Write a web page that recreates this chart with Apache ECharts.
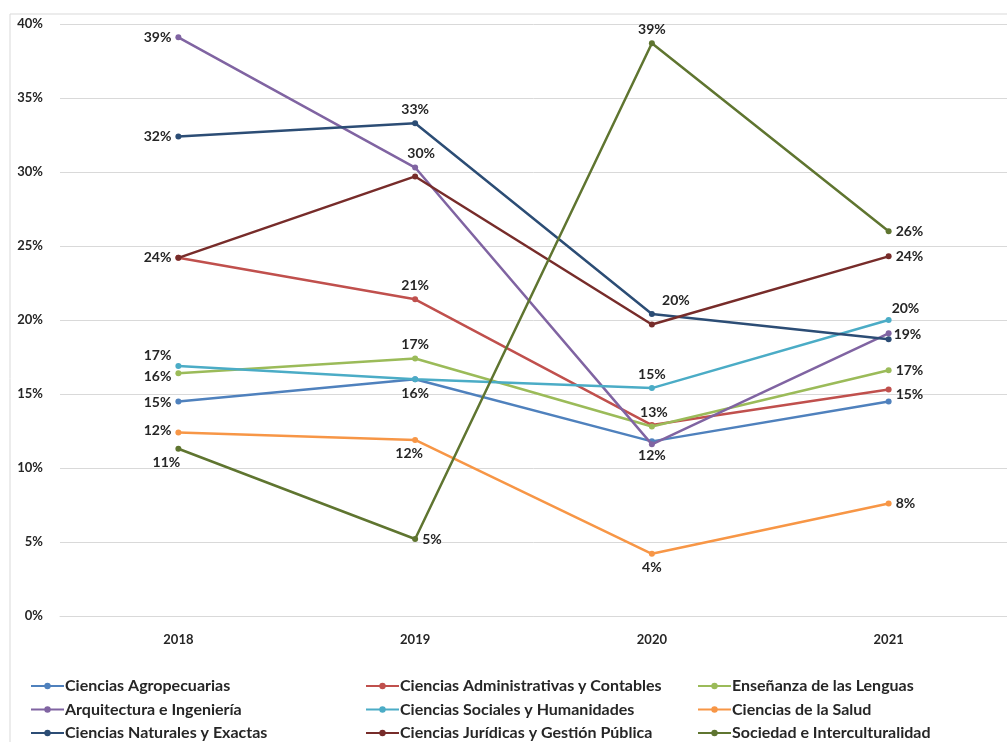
<!DOCTYPE html>
<html>
<head>
<meta charset="utf-8">
<script src="https://cdn.jsdelivr.net/npm/echarts@6/dist/echarts.min.js"></script>
<style>
  html, body { margin: 0; padding: 0; background: #fff; }
  #chart { width: 1007px; height: 742px; }
</style>
</head>
<body>
<div id="chart"></div>
<script>
// años
var years = ['2018', '2019', '2020', '2021'];
var yTicks = [0, 5, 10, 15, 20, 25, 30, 35, 40];

// valores en %
var agropecuarias   = [14.5, 16.0, 11.8, 14.5];
var administrativas = [24.2, 21.4, 12.9, 15.3];
var lenguas         = [16.4, 17.4, 12.8, 16.6];
var arquitectura    = [39.1, 30.3, 11.6, 19.1];
var sociales        = [16.9, 16.0, 15.4, 20.0];
var salud           = [12.4, 11.9, 4.2, 7.6];
var naturales       = [32.4, 33.3, 20.4, 18.7];
var juridicas       = [24.2, 29.7, 19.7, 24.3];
var sociedad        = [11.3, 5.2, 38.7, 26.0];

var names = [
    'Ciencias Agropecuarias', 'Ciencias Administrativas y Contables', 'Enseñanza de las Lenguas',
    'Arquitectura e Ingeniería', 'Ciencias Sociales y Humanidades', 'Ciencias de la Salud',
    'Ciencias Naturales y Exactas', 'Ciencias Jurídicas y Gestión Pública', 'Sociedad e Interculturalidad'
];
var values = [agropecuarias, administrativas, lenguas, arquitectura, sociales, salud, naturales, juridicas, sociedad];
var colors = ['#4F81BD', '#C0504D', '#9BBB59', '#8064A2', '#4BACC6', '#F79646', '#2C4D75', '#772C2A', '#5F7530'];

// donde va cada etiqueta (null = sin etiqueta)
var L = function (pos, dx, dy) { return { pos: pos, off: [dx || 0, dy || 0] }; };
var labelAt = [
    [L('left', 0, 1), null, L('bottom', 0, 0), null],
    [L('left', 0, 0), L('top', 0, 0), null, L('right', 0, 5)],
    [L('left', 0, 3), L('top', 0, 0), L('top', 2, 0), L('right', 0, 0)],
    [L('left', 0, 0), L('top', 6, 0), null, L('right', -2, 1)],
    [L('left', 0, -10), L('bottom', 0, 0), L('top', 0, 0), L('right', -4, -12)],
    [L('left', 0, -2), L('bottom', -6, 0), L('bottom', 0, 0), L('right', 0, 0)],
    [L('left', 0, 0), L('top', 0, 0), L('top', 24, 0), null],
    [null, null, null, L('right', 0, 0)],
    [L('bottom', -12, 0), L('right', 0, 0), L('top', 0, 0), L('right', 0, 0)]
];

var labelFont = { fontFamily: 'Lato', fontWeight: 'bold', fontSize: 14, color: '#262626' };

var series = names.map(function (name, i) {
    return {
        name: name,
        type: 'line',
        symbol: 'circle',
        symbolSize: 6,
        lineStyle: { width: 2.5, color: colors[i] },
        itemStyle: { color: colors[i] },
        z: 2 + i,
        data: values[i].map(function (v, j) {
            var l = labelAt[i][j];
            var d = { value: v };
            if (l) {
                d.label = {
                    show: true,
                    position: l.pos,
                    offset: l.off,
                    distance: 4,
                    formatter: function (p) { return Math.round(p.value) + '%'; },
                    fontFamily: labelFont.fontFamily,
                    fontWeight: labelFont.fontWeight,
                    fontSize: labelFont.fontSize,
                    color: labelFont.color
                };
            }
            return d;
        })
    };
});

function legendCol(left, idx) {
    return {
        orient: 'vertical',
        left: left,
        top: 678,
        height: 100,
        padding: 0,
        itemGap: 7.5,
        itemWidth: 33,
        itemHeight: 8,
        textStyle: { fontFamily: 'Lato', fontWeight: 'bold', fontSize: 16, color: '#262626', padding: [0, 0, 0, -4] },
        data: idx.map(function (k) { return names[k]; })
    };
}

var myChart = echarts.init(document.getElementById('chart'));
var option = {
    backgroundColor: '#fff',
    animation: false,
    color: colors,
    graphic: [{
        type: 'rect',
        shape: { x: 10, y: 14, width: 1100, height: 800 },
        style: { fill: 'none', stroke: '#d9d9d9', lineWidth: 1 },
        silent: true
    }],
    grid: { left: 60, right: -13, top: 24, bottom: 126 },
    legend: [legendCol(30, [0, 3, 6]), legendCol(365, [1, 4, 7]), legendCol(697, [2, 5, 8])],
    xAxis: {
        type: 'category',
        data: years,
        boundaryGap: true,
        axisLine: { show: true, lineStyle: { color: '#d9d9d9' } },
        axisTick: { show: false },
        axisLabel: { fontFamily: 'Lato', fontWeight: 'bold', fontSize: 13, color: '#262626', margin: 17 }
    },
    yAxis: {
        type: 'value',
        min: yTicks[0],
        max: yTicks[yTicks.length - 1],
        interval: 5,
        axisLine: { show: false },
        axisTick: { show: false },
        splitLine: { lineStyle: { color: '#d9d9d9', width: 1 } },
        axisLabel: {
            fontFamily: 'Lato', fontWeight: 'bold', fontSize: 13, color: '#262626', margin: 17,
            formatter: function (v) { return v + '%'; }
        }
    },
    series: series
};
myChart.setOption(option);
</script>
</body>
</html>
